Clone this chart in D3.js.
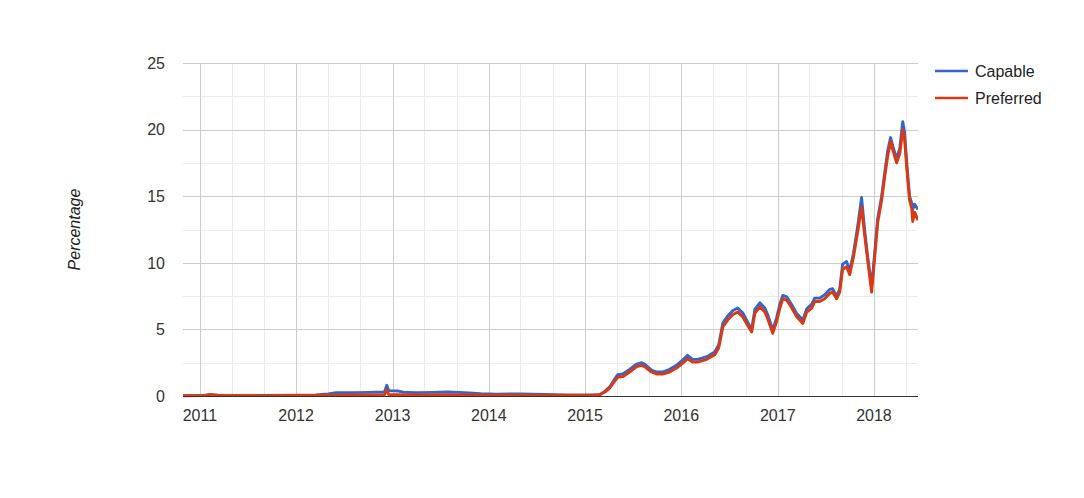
<!DOCTYPE html>
<html>
<head>
<meta charset="utf-8">
<script src="https://cdn.jsdelivr.net/npm/d3@7"></script>
<style>
  html, body { margin: 0; padding: 0; background: #fff; }
  svg { display: block; font-family: "Liberation Sans", Arial, sans-serif; }
</style>
</head>
<body>
<svg id="chart" width="1084" height="498"></svg>
<script>
// ---- Data ----
const seriesNames = ["Capable", "Preferred"];
const seriesColors = ["#3366cc", "#dc3912"];

const dates = [
  "2010-10-29","2011-01-15","2011-02-10","2011-03-10","2011-06-01","2011-09-01",
  "2012-01-01","2012-03-15","2012-05-01","2012-06-01","2012-08-01","2012-10-01",
  "2012-12-01","2012-12-10","2012-12-18","2013-01-20","2013-02-10","2013-04-01",
  "2013-06-01","2013-08-01","2013-10-01","2013-12-01","2014-02-01","2014-05-01",
  "2014-08-01","2014-11-01","2015-01-15","2015-02-26","2015-03-17","2015-04-05",
  "2015-04-23","2015-05-05","2015-05-24","2015-06-19","2015-07-16","2015-08-04",
  "2015-08-15","2015-09-10","2015-09-29","2015-10-22","2015-11-18","2015-12-14",
  "2016-01-06","2016-01-25","2016-02-13","2016-03-03","2016-04-07","2016-05-07",
  "2016-05-22","2016-06-07","2016-06-25","2016-07-14","2016-08-02","2016-08-21",
  "2016-09-09","2016-09-24","2016-10-06","2016-10-25","2016-11-13","2016-11-24",
  "2016-12-13","2016-12-28","2017-01-09","2017-01-20","2017-02-04","2017-02-23",
  "2017-03-14","2017-04-06","2017-04-21","2017-05-10","2017-05-21","2017-06-09",
  "2017-06-28","2017-07-17","2017-07-28","2017-08-12","2017-08-24","2017-09-04",
  "2017-09-19","2017-10-01","2017-10-15","2017-10-31","2017-11-15","2017-11-27",
  "2017-12-08","2017-12-23","2018-01-04","2018-01-15","2018-01-30","2018-02-11",
  "2018-02-22","2018-03-05","2018-03-13","2018-03-28","2018-04-09","2018-04-20",
  "2018-04-27","2018-05-05","2018-05-16","2018-05-24","2018-05-28","2018-06-04",
  "2018-06-17"
];

const capable = [
  0.03, 0.05, 0.10, 0.06, 0.05, 0.04,
  0.06, 0.08, 0.15, 0.24, 0.25, 0.27,
  0.30, 0.80, 0.40, 0.38, 0.28, 0.25,
  0.27, 0.30, 0.25, 0.18, 0.14, 0.15,
  0.12, 0.08, 0.07, 0.10, 0.35, 0.70,
  1.25, 1.60, 1.65, 2.00, 2.40, 2.50,
  2.40, 1.95, 1.80, 1.80, 2.00, 2.30,
  2.70, 3.05, 2.75, 2.75, 2.95, 3.30,
  3.85, 5.50, 6.00, 6.40, 6.60, 6.25,
  5.55, 5.00, 6.50, 7.00, 6.60, 6.10,
  4.95, 5.90, 6.90, 7.55, 7.45, 6.85,
  6.20, 5.70, 6.55, 6.90, 7.35, 7.35,
  7.60, 8.00, 8.05, 7.50, 8.00, 9.90,
  10.10, 9.40, 10.70, 12.70, 14.90, 12.40,
  10.50, 8.20, 10.80, 13.30, 15.00, 16.80,
  18.40, 19.40, 18.80, 17.80, 18.60, 20.60,
  19.80, 17.60, 15.00, 14.50, 14.00, 14.40,
  14.00
];

const preferred = [
  0.02, 0.03, 0.12, 0.05, 0.04, 0.03,
  0.04, 0.05, 0.06, 0.06, 0.07, 0.07,
  0.08, 0.45, 0.10, 0.10, 0.08, 0.07,
  0.08, 0.08, 0.07, 0.06, 0.06, 0.06,
  0.05, 0.05, 0.05, 0.10, 0.30, 0.60,
  1.10, 1.40, 1.45, 1.80, 2.20, 2.30,
  2.20, 1.80, 1.65, 1.65, 1.80, 2.10,
  2.45, 2.80, 2.55, 2.55, 2.75, 3.10,
  3.60, 5.20, 5.70, 6.10, 6.30, 5.95,
  5.30, 4.80, 6.20, 6.70, 6.30, 5.80,
  4.70, 5.60, 6.60, 7.30, 7.20, 6.60,
  5.95, 5.45, 6.30, 6.60, 7.10, 7.10,
  7.30, 7.70, 7.80, 7.30, 7.80, 9.50,
  9.70, 9.10, 10.40, 12.30, 14.20, 12.00,
  10.20, 7.80, 10.50, 13.00, 14.70, 16.50,
  18.00, 19.10, 18.50, 17.50, 18.20, 20.00,
  19.30, 17.20, 14.70, 14.10, 13.10, 13.80,
  13.20
];

const yTicks = [0, 5, 10, 15, 20, 25];
const yMinorTicks = [2.5, 7.5, 12.5, 17.5, 22.5];
const xTickYears = ["2011", "2012", "2013", "2014", "2015", "2016", "2017", "2018"];
const xDomain = ["2010-10-29", "2018-06-17"];
const yLabel = "Percentage";

(function () {
  // ---- Layout ----
  const svg = d3.select("#chart");
  const pL = 183, pR = 918, pT = 63, pB = 396;
  const parse = d3.timeParse("%Y-%m-%d");

  const x = d3.scaleTime().domain(xDomain.map(parse)).range([pL, pR]);
  const y = d3.scaleLinear().domain([0, 25]).range([pB, pT]);

  // minor vertical gridlines (every 4 months: May, Sep)
  const minorDates = d3.timeMonth.range(parse(xDomain[0]), parse(xDomain[1]))
    .filter(d => d.getMonth() === 4 || d.getMonth() === 8);

  const grid = svg.append("g");
  grid.selectAll("line.hmin").data(yMinorTicks).join("line")
    .attr("x1", pL).attr("x2", pR)
    .attr("y1", d => Math.round(y(d)) + 0.5).attr("y2", d => Math.round(y(d)) + 0.5)
    .attr("stroke", "#ebebeb").attr("stroke-width", 1);
  grid.selectAll("line.vmin").data(minorDates).join("line")
    .attr("x1", d => Math.round(x(d)) + 0.5).attr("x2", d => Math.round(x(d)) + 0.5)
    .attr("y1", pT).attr("y2", pB)
    .attr("stroke", "#ebebeb").attr("stroke-width", 1);
  grid.selectAll("line.hmaj").data(yTicks.filter(d => d !== 0)).join("line")
    .attr("x1", pL).attr("x2", pR)
    .attr("y1", d => Math.round(y(d)) + 0.5).attr("y2", d => Math.round(y(d)) + 0.5)
    .attr("stroke", "#cccccc").attr("stroke-width", 1);
  grid.selectAll("line.vmaj").data(xTickYears).join("line")
    .attr("x1", d => Math.round(x(parse(d + "-01-01"))) + 0.5)
    .attr("x2", d => Math.round(x(parse(d + "-01-01"))) + 0.5)
    .attr("y1", pT).attr("y2", pB)
    .attr("stroke", "#cccccc").attr("stroke-width", 1);

  // y tick labels
  svg.append("g").selectAll("text").data(yTicks).join("text")
    .attr("x", 165).attr("y", d => y(d))
    .attr("dy", "0.36em")
    .attr("text-anchor", "end")
    .attr("font-size", 16).attr("fill", "#333")
    .text(d => d);

  // x tick labels
  svg.append("g").selectAll("text").data(xTickYears).join("text")
    .attr("x", d => x(parse(d + "-01-01")))
    .attr("y", 421)
    .attr("text-anchor", "middle")
    .attr("font-size", 16).attr("fill", "#333")
    .text(d => d);

  // y axis title
  svg.append("text")
    .attr("transform", `translate(80,${(pT + pB) / 2}) rotate(-90)`)
    .attr("text-anchor", "middle")
    .attr("font-size", 16).attr("font-style", "italic").attr("fill", "#222")
    .text(yLabel);

  // clip
  svg.append("clipPath").attr("id", "plotclip")
    .append("rect").attr("x", pL).attr("y", pT - 10)
    .attr("width", pR - pL).attr("height", pB - pT + 12);

  const line = d3.line()
    .x(d => x(d.date))
    .y(d => y(d.value));

  const seriesData = [capable, preferred].map(vals =>
    dates.map((d, i) => ({ date: parse(d), value: vals[i] })));

  svg.append("g").attr("clip-path", "url(#plotclip)")
    .selectAll("path").data(seriesData).join("path")
    .attr("d", line)
    .attr("fill", "none")
    .attr("stroke", (d, i) => seriesColors[i])
    .attr("stroke-width", 2.9)
    .attr("stroke-linejoin", "round");

  // baseline
  svg.append("line")
    .attr("x1", pL).attr("x2", pR)
    .attr("y1", Math.round(y(0)) + 0.5).attr("y2", Math.round(y(0)) + 0.5)
    .attr("stroke", "#333").attr("stroke-width", 1);

  // legend
  const legend = svg.append("g").selectAll("g").data(seriesNames).join("g")
    .attr("transform", (d, i) => `translate(935,${71 + i * 27})`);
  legend.append("line")
    .attr("x1", 0).attr("x2", 33).attr("y1", 0).attr("y2", 0)
    .attr("stroke", (d, i) => seriesColors[i]).attr("stroke-width", 2.5);
  legend.append("text")
    .attr("x", 40).attr("y", 0).attr("dy", "0.36em")
    .attr("font-size", 16).attr("fill", "#222")
    .text(d => d);
})();
</script>
</body>
</html>
